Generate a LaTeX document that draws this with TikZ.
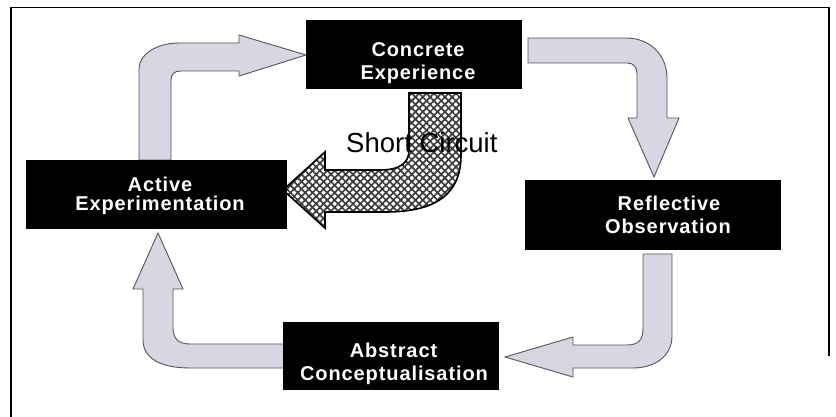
\documentclass[tikz,border=0pt]{standalone}
\usepackage{fontspec}
\setmainfont{Liberation Sans}
\newfontfamily\boxfont[LetterSpace=4.5]{Liberation Sans}
\usetikzlibrary{patterns.meta}

\definecolor{arrowgrey}{RGB}{216,214,226}
\definecolor{edgegrey}{RGB}{85,85,90}
\definecolor{hatchgrey}{RGB}{60,60,60}

\begin{document}
\begin{tikzpicture}[x=1pt,y=-1pt,
  flow/.style={fill=arrowgrey, draw=edgegrey, line width=0.9pt, line join=miter},
  stagebox/.style={fill=black, draw=none, inner sep=0pt},
  boxtext/.style={text=white, font=\boxfont\bfseries\fontsize{20}{22}\selectfont,
                  anchor=base, inner sep=0pt},
  shortcut/.style={fill=white,
     postaction={pattern={Lines[angle=45,distance=5.2pt,line width=1.7pt]}, pattern color=hatchgrey},
     postaction={pattern={Lines[angle=-45,distance=5.2pt,line width=1.7pt]}, pattern color=hatchgrey},
     postaction={draw=black, line width=1.6pt, line join=miter}}]
\useasboundingbox (0,0) rectangle (836,417);

% frame
\coordinate (f1) at (829,356);
\coordinate (f2) at (829,7.5);
\coordinate (f3) at (10.8,7.5);
\coordinate (f4) at (10.8,417);
\draw[line width=1.8pt] (f1) -- (f2) -- (f3) -- (f4);

% cycle arrows (drawn first, boxes sit on top)
% Active Experimentation -> Concrete Experience
\draw[flow] (139,160) -- (139,69) .. controls (139,54) and (157,43) .. (179,43)
  -- (239,43) -- (239,35) -- (306,55) -- (239,76) -- (239,71) -- (181,71)
  .. controls (174,71) and (171,74) .. (171,81) -- (171,160) -- cycle;
% Concrete Experience -> Reflective Observation
\draw[flow] (528,38) -- (626,38) .. controls (650,38) and (667,55) .. (667,78)
  -- (667,118) -- (679,118) -- (654,177) -- (628,118) -- (637,118) -- (637,74)
  .. controls (637,67) and (634,63) .. (627,63) -- (528,63) -- cycle;
% Reflective Observation -> Abstract Conceptualisation
\draw[flow] (643,254) -- (672,254) -- (672,336) .. controls (672,356) and (655,368) .. (633,368)
  -- (573,368) -- (573,377) -- (505,357) -- (573,337) -- (573,345) -- (627,345)
  .. controls (638,345) and (643,340) .. (643,329) -- cycle;
% Abstract Conceptualisation -> Active Experimentation
\draw[flow] (286,344) -- (190,344) .. controls (179,344) and (173,339) .. (173,328)
  -- (173,289) -- (183,289) -- (158,233) -- (133,289) -- (143,289) -- (143,340)
  .. controls (143,358) and (160,368) .. (190,368) -- (286,368) -- cycle;

% short circuit arrow
\path[shortcut] (409,93) -- (461,93) -- (461,155)
  .. controls (461,195) and (435,212) .. (385,212) -- (325,212) -- (325,228)
  -- (283,190) -- (325,152) -- (325,170) -- (380,170)
  .. controls (400,170) and (409,163) .. (409,150) -- cycle;
\node[anchor=base west, inner sep=0pt, font=\fontsize{27.5}{30}\selectfont] (sc)
  at (346,152.7) {Short Circuit};

% stage boxes
\node[stagebox, minimum width=216pt, minimum height=69pt] (ce) at (414,54.5) {};
\node[stagebox, minimum width=261pt, minimum height=69.5pt] (ae) at (156.3,194.7) {};
\node[stagebox, minimum width=256pt, minimum height=70pt] (ro) at (653,215) {};
\node[stagebox, minimum width=216.5pt, minimum height=68.5pt] (ac) at (391.2,356.2) {};

% stage labels
\node[boxtext] (ce1) at (418,56.7) {Concrete};
\node[boxtext] (ce2) at (418,79.3) {Experience};
\node[boxtext] (ae1) at (160,191.5) {Active};
\node[boxtext] (ae2) at (160,210.5) {Experimentation};
\node[boxtext] (ro1) at (669,211) {Reflective};
\node[boxtext] (ro2) at (668,233.3) {Observation};
\node[boxtext] (ac1) at (393.5,357) {Abstract};
\node[boxtext] (ac2) at (394,380) {Conceptualisation};
\end{tikzpicture}
\end{document}
